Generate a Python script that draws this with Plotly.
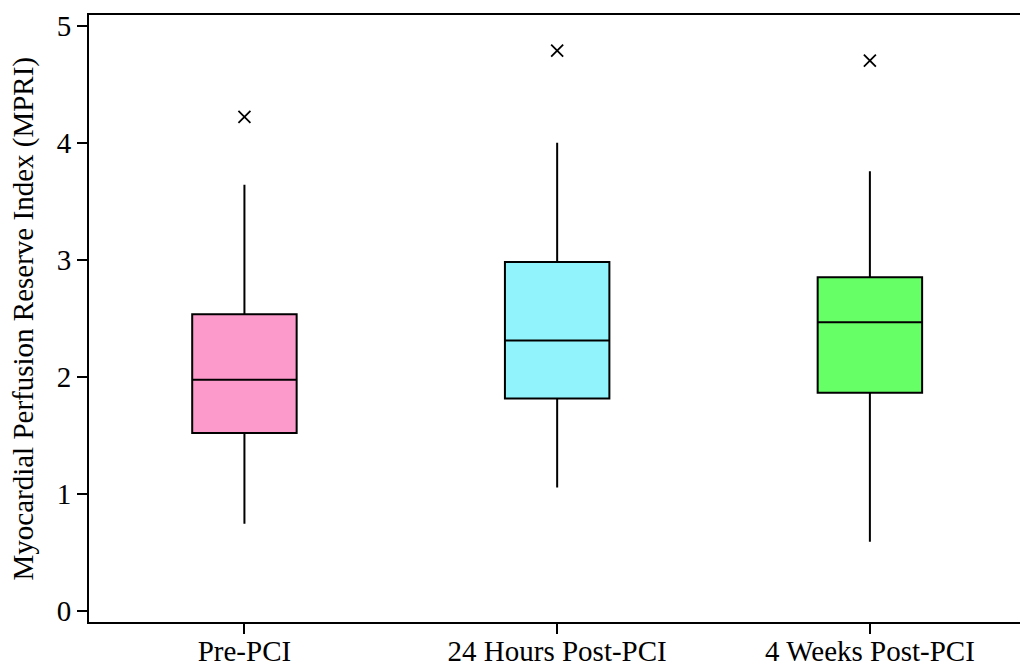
import plotly.graph_objects as go

categories = ["Pre-PCI", "24 Hours Post-PCI", "4 Weeks Post-PCI"]
q1_vals = [1.52, 1.815, 1.863]
median_vals = [1.974, 2.31, 2.467]
q3_vals = [2.535, 2.98, 2.85]
lower_whisker = [0.745, 1.054, 0.592]
upper_whisker = [3.64, 4.0, 3.755]
outliers = [4.22, 4.786, 4.70]
fill_colors = ["#FC9BCB", "#91F4FC", "#66FF66"]
y_ticks = [0, 1, 2, 3, 4, 5]
y_title = "Myocardial Perfusion Reserve Index (MPRI)"

FONT = "Liberation Serif, Times New Roman, serif"
FS = 29

fig = go.Figure()
for i, cat in enumerate(categories):
    fig.add_trace(go.Box(
        x=[cat], q1=[q1_vals[i]], median=[median_vals[i]], q3=[q3_vals[i]],
        lowerfence=[lower_whisker[i]], upperfence=[upper_whisker[i]],
        fillcolor=fill_colors[i], line=dict(color="black", width=2),
        width=0.334, whiskerwidth=0, boxpoints=False, showlegend=False,
    ))
fig.add_trace(go.Scatter(
    x=categories, y=outliers, mode="markers", showlegend=False,
    marker=dict(symbol="x-thin", size=12, color="black",
                line=dict(color="black", width=1.8)),
))

fig.update_layout(
    width=1020, height=666,
    margin=dict(l=89, r=0, t=15, b=44),
    plot_bgcolor="white", paper_bgcolor="white",
    font=dict(family=FONT, size=FS, color="black"),
    boxmode="overlay",
)
fig.add_annotation(
    text=y_title, xref="paper", yref="paper", x=0, y=0.5, xshift=-66,
    xanchor="center", yanchor="middle", textangle=-90, showarrow=False,
    font=dict(family=FONT, size=FS, color="black"),
)
fig.update_xaxes(
    type="category", categoryorder="array", categoryarray=categories,
    range=[-0.497, 2.48], showline=True, linecolor="black", linewidth=2,
    mirror=True, ticks="outside", ticklen=10, tickwidth=2, tickcolor="black",
    showgrid=False, zeroline=False, automargin=False, ticklabelstandoff=-8,
    tickfont=dict(family=FONT, size=FS, color="black"),
)
fig.update_yaxes(
    range=[-0.094, 5.09], tickvals=y_ticks, showline=True, linecolor="black",
    linewidth=2, mirror=False, ticks="outside", ticklen=10, tickwidth=2,
    tickcolor="black", showgrid=False, zeroline=False, automargin=False,
    tickfont=dict(family=FONT, size=FS, color="black"),
)

fig.write_html(
    "out.html",
    config={"displayModeBar": False},
    post_script="document.body.style.margin='0';document.body.style.overflow='hidden';",
)
